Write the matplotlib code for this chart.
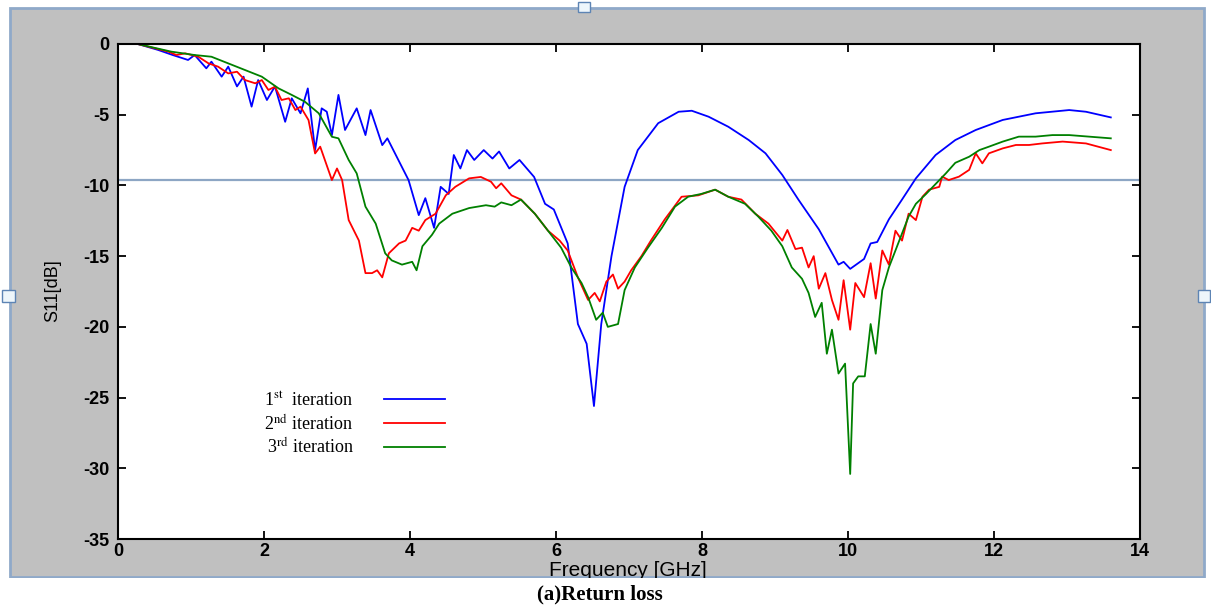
import matplotlib
matplotlib.use("Agg")
import matplotlib.pyplot as plt
from matplotlib.patches import Rectangle
from matplotlib.lines import Line2D
from matplotlib.font_manager import FontProperties

# ===== S11 curves (frequency in GHz, return loss in dB) =====
freq_1st = [0.27, 0.55, 0.75, 0.96, 1.05, 1.21, 1.28, 1.42, 1.51, 1.63,
            1.72, 1.83, 1.92, 2.04, 2.15, 2.29, 2.38, 2.50, 2.60, 2.70,
            2.79, 2.86, 2.93, 3.02, 3.11, 3.27, 3.39, 3.46, 3.62, 3.69,
            3.98, 4.12, 4.21, 4.33, 4.42, 4.53, 4.60, 4.69, 4.78, 4.88,
            5.01, 5.13, 5.22, 5.36, 5.50, 5.70, 5.85, 5.97, 6.16, 6.30,
            6.42, 6.52, 6.62, 6.76, 6.94, 7.12, 7.40, 7.68, 7.86, 8.09,
            8.36, 8.64, 8.87, 9.10, 9.32, 9.60, 9.87, 9.94, 10.03, 10.22,
            10.31, 10.40, 10.56, 10.74, 10.93, 11.20, 11.47, 11.75, 12.12, 12.57,
            13.03, 13.26, 13.60]
s11_1st = [0, -0.42, -0.78, -1.13, -0.78, -1.72, -1.25, -2.31, -1.60, -3.00,
           -2.31, -4.43, -2.55, -3.96, -3.00, -5.50, -3.84, -4.90, -3.14, -7.50,
           -4.55, -4.79, -6.44, -3.60, -6.08, -4.55, -6.44, -4.67, -7.15, -6.67,
           -9.62, -12.1, -10.9, -13.0, -10.1, -10.6, -7.85, -8.8, -7.5, -8.2,
           -7.5, -8.1, -7.6, -8.8, -8.2, -9.4, -11.3, -11.7, -14.1, -19.8,
           -21.2, -25.6, -19.8, -15.0, -10.1, -7.5, -5.6, -4.79, -4.72, -5.14,
           -5.85, -6.79, -7.73, -9.26, -11.0, -13.1, -15.6, -15.4, -15.9, -15.2,
           -14.1, -14.0, -12.4, -11.0, -9.5, -7.85, -6.79, -6.08, -5.37, -4.9,
           -4.67, -4.79, -5.19]

freq_2nd = [0.27, 0.69, 0.80, 0.92, 1.10, 1.24, 1.37, 1.51, 1.63, 1.74,
            1.88, 1.97, 2.06, 2.15, 2.24, 2.34, 2.43, 2.50, 2.61, 2.70,
            2.77, 2.93, 3.00, 3.07, 3.16, 3.30, 3.39, 3.48, 3.55, 3.62,
            3.71, 3.85, 3.94, 4.03, 4.12, 4.21, 4.35, 4.49, 4.62, 4.81,
            4.97, 5.11, 5.18, 5.25, 5.39, 5.52, 5.71, 5.89, 6.05, 6.16,
            6.30, 6.44, 6.53, 6.60, 6.69, 6.78, 6.85, 6.94, 7.03, 7.17,
            7.30, 7.49, 7.72, 7.95, 8.18, 8.36, 8.54, 8.73, 8.91, 9.10,
            9.17, 9.28, 9.37, 9.46, 9.53, 9.60, 9.69, 9.78, 9.87, 9.94,
            10.03, 10.10, 10.22, 10.31, 10.38, 10.47, 10.56, 10.65, 10.74, 10.83,
            10.93, 11.02, 11.11, 11.25, 11.29, 11.38, 11.52, 11.66, 11.75, 11.84,
            11.93, 12.12, 12.30, 12.48, 12.66, 12.94, 13.26, 13.60]
s11_2nd = [0, -0.54, -0.78, -0.66, -0.90, -1.37, -1.60, -2.08, -1.96, -2.55,
           -2.78, -2.55, -3.25, -3.02, -3.96, -3.84, -4.67, -4.43, -5.38, -7.74,
           -7.26, -9.62, -8.80, -9.62, -12.45, -13.9, -16.2, -16.2, -16.0, -16.5,
           -14.8, -14.1, -13.9, -13.0, -13.2, -12.45, -12.0, -10.7, -10.1, -9.5,
           -9.4, -9.74, -10.2, -9.85, -10.7, -11.0, -12.0, -13.2, -13.9, -14.6,
           -16.5, -18.1, -17.6, -18.2, -16.8, -16.3, -17.3, -16.8, -16.0, -15.0,
           -13.9, -12.4, -10.8, -10.7, -10.3, -10.8, -11.0, -12.0, -12.7, -13.9,
           -13.15, -14.5, -14.4, -15.8, -15.0, -17.3, -16.2, -18.1, -19.5, -16.7,
           -20.2, -16.9, -17.9, -15.5, -18.0, -14.6, -15.6, -13.2, -13.9, -12.0,
           -12.45, -10.8, -10.3, -10.1, -9.38, -9.62, -9.38, -8.9, -7.73, -8.44,
           -7.73, -7.38, -7.14, -7.14, -7.03, -6.9, -7.03, -7.5]

freq_3rd = [0.27, 0.73, 1.05, 1.28, 1.51, 1.74, 1.97, 2.20, 2.38, 2.56,
            2.75, 2.93, 3.02, 3.16, 3.27, 3.39, 3.53, 3.66, 3.75, 3.89,
            4.03, 4.09, 4.17, 4.30, 4.40, 4.58, 4.81, 5.04, 5.16, 5.25,
            5.39, 5.52, 5.71, 5.89, 6.07, 6.21, 6.35, 6.44, 6.55, 6.64,
            6.71, 6.85, 6.94, 7.08, 7.26, 7.45, 7.63, 7.81, 7.99, 8.18,
            8.36, 8.59, 8.77, 8.95, 9.10, 9.23, 9.37, 9.46, 9.55, 9.64,
            9.71, 9.78, 9.87, 9.96, 10.03, 10.07, 10.14, 10.23, 10.31, 10.38,
            10.47, 10.56, 10.65, 10.74, 10.83, 10.93, 11.07, 11.20, 11.34, 11.47,
            11.66, 11.80, 11.93, 12.12, 12.34, 12.57, 12.80, 13.03, 13.60]
s11_3rd = [0, -0.54, -0.78, -0.90, -1.37, -1.84, -2.31, -3.14, -3.60, -4.08,
           -4.90, -6.56, -6.67, -8.20, -9.15, -11.5, -12.7, -14.8, -15.3, -15.6,
           -15.4, -16.0, -14.3, -13.5, -12.7, -12.0, -11.6, -11.4, -11.5, -11.2,
           -11.4, -11.0, -12.0, -13.2, -14.4, -15.8, -16.9, -17.9, -19.5, -19.0,
           -20.0, -19.8, -17.4, -15.8, -14.4, -13.0, -11.5, -10.8, -10.6, -10.3,
           -10.8, -11.3, -12.2, -13.2, -14.3, -15.8, -16.6, -17.6, -19.3, -18.3,
           -21.9, -20.2, -23.3, -22.6, -30.4, -24.0, -23.5, -23.5, -19.8, -21.9,
           -17.4, -15.8, -14.6, -13.4, -12.2, -11.3, -10.6, -9.9, -9.15, -8.4,
           -7.97, -7.5, -7.26, -6.9, -6.55, -6.55, -6.44, -6.44, -6.67]

threshold_db = -9.6
series_labels = ["1$^{\\rm st}$  iteration", "2$^{\\rm nd}$ iteration", "3$^{\\rm rd}$ iteration"]
series_colors = ["#0000ff", "#ff0000", "#008000"]

x_ticks = [0, 2, 4, 6, 8, 10, 12, 14]
y_ticks = [0, -5, -10, -15, -20, -25, -30, -35]

plt.rcParams["font.family"] = ["Liberation Sans", "DejaVu Sans"]
plt.rcParams["mathtext.fontset"] = "stix"
plt.rcParams["axes.unicode_minus"] = False

W, H = 1211, 608
fig = plt.figure(figsize=(W / 100, H / 100), dpi=100)
fig.patch.set_facecolor("white")


def fx(px):
    return px / W


def fy(py):
    return 1 - py / H


# ===== 1. Grey window behind the plot =====
fig.add_artist(Rectangle((fx(10), fy(577)), (1204 - 10) / W, (577 - 8) / H,
                         transform=fig.transFigure, facecolor="#c0c0c0",
                         edgecolor="#8fa9c9", lw=2, zorder=0))
for (hx, hy, hw, hh) in [(578, 2, 12, 10), (2, 290, 13, 12), (1198, 290, 12, 12)]:
    fig.add_artist(Rectangle((fx(hx), fy(hy + hh)), hw / W, hh / H,
                             transform=fig.transFigure, facecolor="#eef6fb",
                             edgecolor="#5d84b4", lw=1, zorder=6))

# ===== 2. Axes =====
ax = fig.add_axes([fx(118), fy(539), (1140 - 118) / W, (539 - 44) / H])
ax.set_facecolor("white")

ax.axhline(threshold_db, color="#8da6c4", lw=1.6, zorder=1)

curves = [(freq_1st, s11_1st), (freq_2nd, s11_2nd), (freq_3rd, s11_3rd)]
handles = []
for (f, s), c in zip(curves, series_colors):
    ax.plot(f, s, color=c, lw=1.3, zorder=2)
    handles.append(Line2D([], [], color=c, lw=1.3))

ax.set_xlim(0, 14)
ax.set_ylim(-35, 0)
ax.set_xticks(x_ticks)
ax.set_yticks(y_ticks)
ax.tick_params(direction="in", length=6, width=1.3, top=True, right=True,
               labelsize=13)
ax.tick_params(axis="x", pad=3)
ax.tick_params(axis="y", pad=6)
for lbl in ax.get_xticklabels() + ax.get_yticklabels():
    lbl.set_fontweight("bold")
for sp in ax.spines.values():
    sp.set_linewidth(1.5)

ax.legend(handles, series_labels, loc="upper left", bbox_to_anchor=(0.143, 0.298),
          markerfirst=False, frameon=False, handlelength=3.4, handletextpad=1.7,
          labelspacing=0.22, borderpad=0, borderaxespad=0,
          prop=FontProperties(family="Liberation Serif", size=13))

# ===== 3. Labels =====
fig.text(fx(53), fy(291), "S11[dB]", rotation=90, ha="center", va="center",
         fontsize=13, zorder=3)
fig.text(fx(628), fy(576), "Frequency [GHz]", ha="center", va="baseline",
         fontsize=15, zorder=3)

# white strip below the window hides the lower part of the x label
fig.add_artist(Rectangle((0, 0), 1, (H - 578) / H, transform=fig.transFigure,
                         facecolor="white", edgecolor="none", zorder=4))
fig.text(fx(600), fy(594), "(a)Return loss", ha="center", va="center",
         fontsize=15, fontweight="bold", family="Liberation Serif", zorder=5)

fig.savefig("out.png", dpi=100)
plt.close(fig)
